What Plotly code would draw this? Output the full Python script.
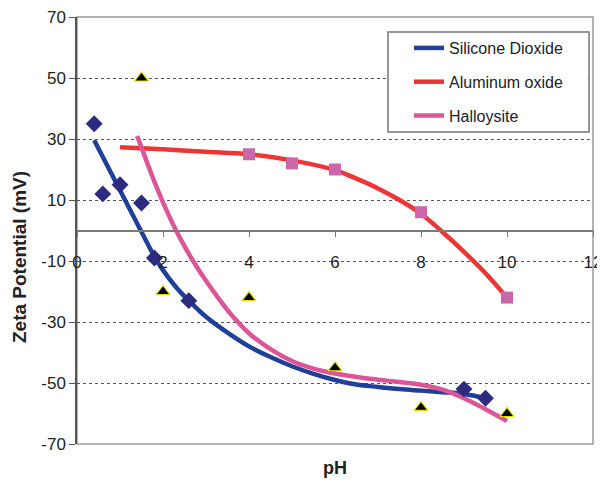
import plotly.graph_objects as go

# ---- data ----
sio2_ph = [0.4, 0.6, 1.0, 1.5, 1.8, 2.6, 9.0, 9.5]
sio2_zeta = [35, 12, 15, 9, -9, -23, -52, -55]

al2o3_ph = [4, 5, 6, 8, 10]
al2o3_zeta = [25, 22, 20, 6, -22]

hall_ph = [1.5, 2, 4, 6, 8, 10]
hall_zeta = [50, -20, -22, -45, -58, -60]

# trend lines as traced on the picture
sio2_fit_ph = [0.4, 0.7, 1.0, 1.3, 1.6, 1.8, 2.0, 2.3, 2.6, 3.0, 3.5, 4.0, 4.5, 5.0, 5.5, 6.0, 6.5, 7.0, 7.5, 8.0, 8.5, 9.0, 9.5]
sio2_fit_zeta = [29.6, 21.4, 13.2, 5, -3.2, -8.5, -13, -18.5, -23, -28.3, -33.5, -38, -41.5, -44.5, -47, -49, -50.5, -51.3, -52, -52.5, -53, -53.6, -55]

al2o3_fit_ph = [1.0, 2.0, 3.0, 4.0, 5.0, 6.0, 6.5, 7.0, 7.5, 8.0, 8.5, 9.0, 9.5, 10.0]
al2o3_fit_zeta = [27.3, 26.6, 25.8, 25, 23, 19.8, 17, 13.8, 10, 5.5, -0.5, -7, -14, -22]

hall_fit_ph = [1.4, 1.6, 1.8, 2.0, 2.2, 2.4, 2.7, 3.0, 3.3, 3.6, 4.0, 4.5, 5.0, 5.5, 6.0, 6.5, 7.0, 7.5, 8.0, 8.5, 9.0, 9.5, 10.0]
hall_fit_zeta = [31, 23.4, 16, 9.2, 3, -2.6, -10, -16.5, -22.4, -27.8, -33.7, -38.9, -42.8, -45.3, -46.9, -48, -48.9, -49.7, -50.6, -52.2, -55, -58.6, -62.5]

series_names = ["Silicone Dioxide", "Aluminum oxide", "Halloysite"]
x_ticks = [0, 2, 4, 6, 8, 10, 12]
y_ticks = [-70, -50, -30, -10, 10, 30, 50, 70]

# page body has an 8px margin, so work in screen pixels minus that offset
O = 8
W, H = 605 - O, 489 - O
L, R, T, B = 77 - O, 593 - O, 17 - O, 444 - O


def px(sx):
    return (sx - O - L) / (R - L)


def py(sy):
    return (B - (sy - O)) / (B - T)


fig = go.Figure()

line_w = 4.5
fig.add_trace(go.Scatter(x=al2o3_fit_ph, y=al2o3_fit_zeta, mode="lines", name=series_names[1],
                         line=dict(color="#EE3535", width=line_w, shape="spline"),
                         legendgroup="b", legendrank=2))
fig.add_trace(go.Scatter(x=sio2_fit_ph, y=sio2_fit_zeta, mode="lines", name=series_names[0],
                         line=dict(color="#1F3F99", width=line_w, shape="spline"),
                         legendgroup="a", legendrank=1))
fig.add_trace(go.Scatter(x=hall_fit_ph, y=hall_fit_zeta, mode="lines", name=series_names[2],
                         line=dict(color="#DD5599", width=line_w, shape="spline"),
                         legendgroup="c", legendrank=3))

fig.add_trace(go.Scatter(x=al2o3_ph, y=al2o3_zeta, mode="markers", showlegend=False,
                         marker=dict(symbol="square", size=12, color="#CC66AA")))
fig.add_trace(go.Scatter(x=sio2_ph, y=sio2_zeta, mode="markers", showlegend=False,
                         marker=dict(symbol="diamond", size=13, color="#2D2B80")))
fig.add_trace(go.Scatter(x=hall_ph, y=hall_zeta, mode="markers", showlegend=False,
                         marker=dict(symbol="triangle-up", size=12, color="#000000",
                                     line=dict(color="#E8E000", width=1.2))))

tick_font = dict(family="Liberation Sans, Arial, sans-serif", size=17, color="#222222")

fig.update_layout(
    width=W, height=H,
    margin=dict(l=L, r=W - R, t=T, b=H - B, pad=0, autoexpand=False),
    paper_bgcolor="white", plot_bgcolor="white",
    showlegend=True,
    xaxis=dict(range=[0, 12], tickvals=x_ticks, ticktext=[str(v) for v in x_ticks],
               anchor="free", position=0.5, showline=True, linecolor="#7a7a7a", linewidth=1.5,
               ticks="outside", ticklen=6, tickcolor="#7a7a7a", tickwidth=1.2, automargin=False,
               showgrid=False, zeroline=False, tickfont=tick_font, ticklabelstandoff=10,
               ticklabeloverflow="allow"),
    yaxis=dict(range=[-70, 70], tickvals=y_ticks, ticktext=[str(v) for v in y_ticks], domain=[0, 1],
               showline=True, linecolor="#555555", linewidth=1.5, automargin=False,
               ticks="outside", ticklen=6, tickcolor="#555555",
               showgrid=True, gridcolor="#555555", griddash="dot", gridwidth=1,
               zeroline=False, tickfont=tick_font, ticklabeloverflow="allow"),
    legend=dict(x=px(409), y=py(31), xanchor="left", yanchor="top",
                bgcolor="rgba(0,0,0,0)", borderwidth=0, tracegroupgap=10,
                font=dict(family="Liberation Sans, Arial, sans-serif", size=16, color="#222222")),
    shapes=[
        dict(type="rect", xref="paper", yref="paper", x0=0, x1=1, y0=0, y1=1,
             line=dict(color="#9a9a9a", width=1.5), layer="below"),
        dict(type="rect", xref="paper", yref="paper",
             x0=px(388), x1=px(589), y0=py(132), y1=py(32),
             line=dict(color="#777777", width=1.5), fillcolor="white", layer="above"),
    ],
    annotations=[
        dict(text="<b>Zeta Potential (mV)</b>", xref="paper", yref="paper", x=px(20), y=py(257),
             textangle=-90, showarrow=False, xanchor="center", yanchor="middle",
             font=dict(family="Liberation Sans, Arial, sans-serif", size=19, color="#222222")),
        dict(text="<b>pH</b>", xref="paper", yref="paper", x=px(335), y=py(468),
             showarrow=False, xanchor="center", yanchor="middle",
             font=dict(family="Liberation Sans, Arial, sans-serif", size=18, color="#222222")),
    ],
)

fig.write_html("out.html")
